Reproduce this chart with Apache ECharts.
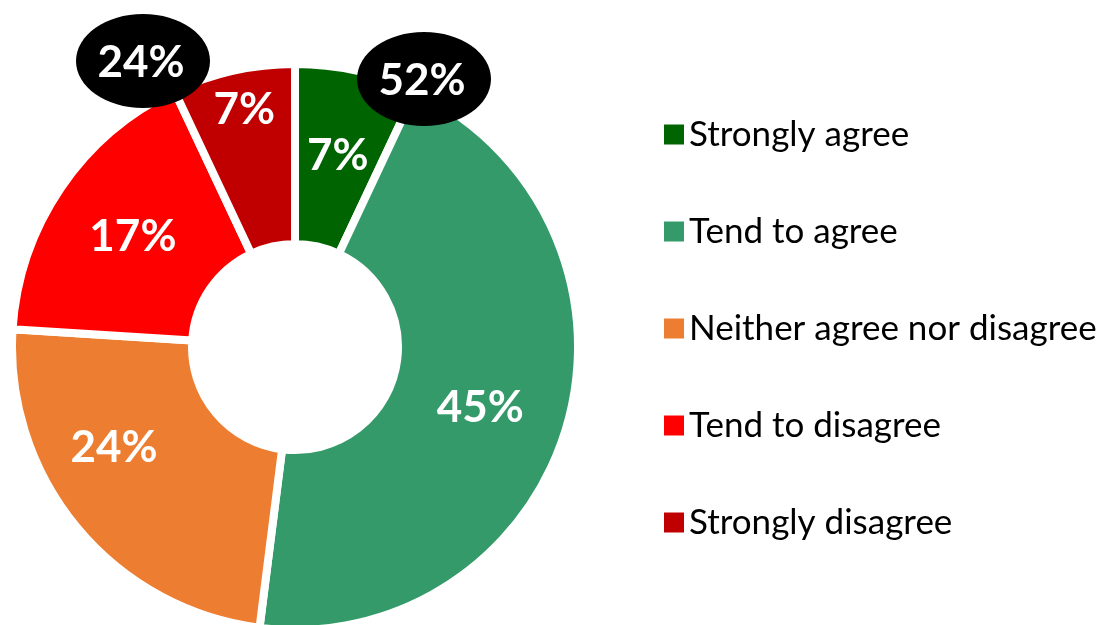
<!DOCTYPE html>
<html>
<head>
<meta charset="utf-8">
<script src="https://cdn.jsdelivr.net/npm/echarts@6/dist/echarts.min.js"></script>
<style>
  html, body { margin: 0; padding: 0; background: #fff; }
  #pie-chart { width: 1102px; height: 625px; }
</style>
</head>
<body>
<div id="pie-chart"></div>
<script>
const pieChart = echarts.init(document.getElementById("pie-chart"));

const CATEGORIES = [
  "Strongly agree",
  "Tend to agree",
  "Neither agree nor disagree",
  "Tend to disagree",
  "Strongly disagree"
];
const VALUES = [7, 45, 24, 17, 7];
const COLORS = ["#006400", "#349A6A", "#ED7D31", "#FF0000", "#C00000"];

// net agree / net disagree for the black callouts
const netAgree = VALUES[0] + VALUES[1];
const netDisagree = VALUES[3] + VALUES[4];

// Excel nudged two of the labels away from the slice centre
const LABEL_NUDGE = [null, [-3, 6], [-30, -24], null, [-8, -46]];

const FONT = "Lato, 'Open Sans', sans-serif";

const pieData = CATEGORIES.map((name, i) => {
  const item = { name, value: VALUES[i], itemStyle: { color: COLORS[i] } };
  if (LABEL_NUDGE[i]) item.label = { offset: LABEL_NUDGE[i] };
  return item;
});

function callout(cx, cy, text) {
  return [
    {
      type: "ellipse",
      z: 100,
      shape: { cx, cy, rx: 67, ry: 47 },
      style: { fill: "#000" }
    },
    {
      type: "text",
      z: 101,
      x: cx - 2,
      y: cy + 2,
      style: {
        text,
        fill: "#fff",
        font: `bold 44px ${FONT}`,
        align: "center",
        verticalAlign: "middle"
      }
    }
  ];
}

pieChart.setOption({
  animation: false,
  legend: {
    orient: "vertical",
    left: 659,
    top: 112,
    itemWidth: 20,
    itemHeight: 20,
    itemGap: 62,
    itemStyle: { borderWidth: 0 },
    icon: "rect",
    data: CATEGORIES,
    textStyle: {
      fontFamily: FONT,
      fontSize: 35,
      lineHeight: 34,
      color: "#000",
      padding: [0, 0, 0, 0]
    }
  },
  series: [{
    type: "pie",
    center: [295, 347],
    radius: [103, 283],
    startAngle: 90,
    clockwise: true,
    avoidLabelOverlap: false,
    itemStyle: { borderColor: "#fff", borderWidth: 8 },
    label: {
      show: true,
      position: "inside",
      formatter: "{c}%",
      color: "#fff",
      fontFamily: FONT,
      fontWeight: "bold",
      fontSize: 44
    },
    labelLine: { show: false },
    emphasis: { disabled: true },
    data: pieData
  }],
  graphic: [
    ...callout(143, 61, `${netDisagree}%`),
    ...callout(424, 79, `${netAgree}%`)
  ]
});
</script>
</body>
</html>
